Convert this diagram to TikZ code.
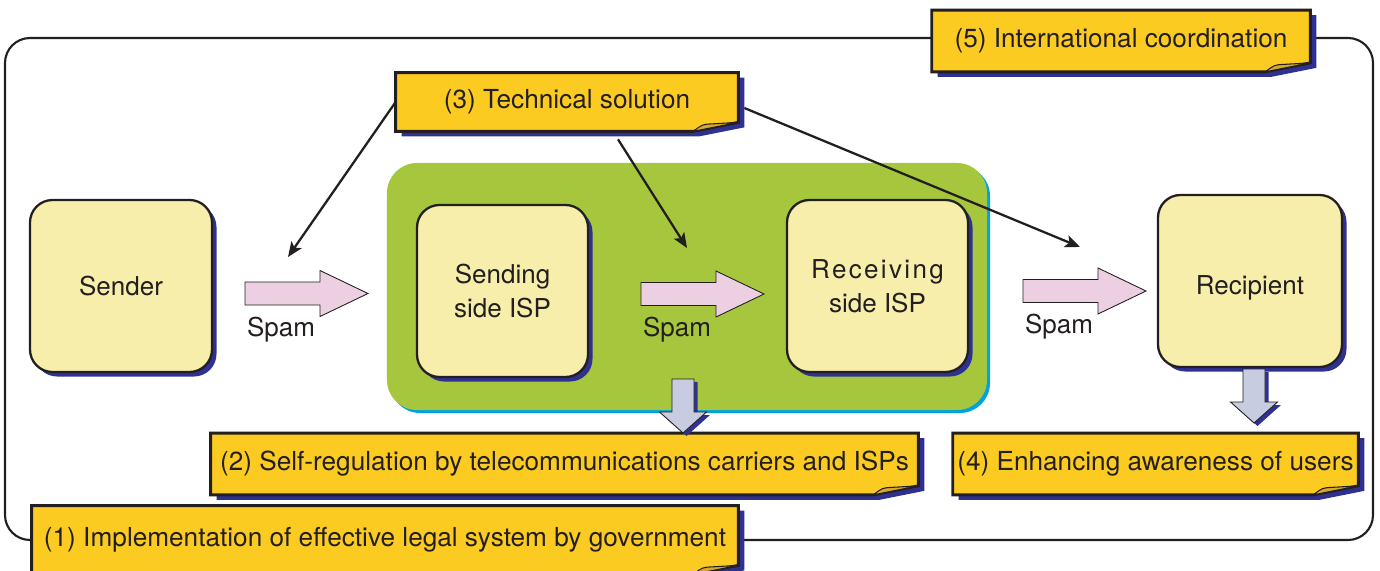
\documentclass[tikz,border=0pt]{standalone}
\usepackage{fontspec}
\setmainfont{TeX Gyre Heros}
\usetikzlibrary{arrows.meta, shadows, backgrounds, calc}
\definecolor{ink}{HTML}{231F20}
\definecolor{navy}{HTML}{2E3192}
\definecolor{notefill}{HTML}{FCCB22}
\definecolor{foldfill}{HTML}{D6A92E}
\definecolor{nodefill}{HTML}{F8EEAB}
\definecolor{leaf}{HTML}{A6C63D}
\definecolor{skyedge}{HTML}{00A3E0}
\definecolor{spampink}{HTML}{EDCFE2}
\definecolor{pushgrey}{HTML}{C8CCE0}

\tikzset{
  party/.style={draw=ink, line width=1.3pt, fill=nodefill, rounded corners=0.45cm,
    drop shadow={shadow xshift=0.09cm, shadow yshift=-0.09cm, fill=navy, opacity=1},
    minimum height=3.44cm, align=center, text=ink,
    font=\fontsize{14.8}{19.5}\selectfont},
  zone/.style={fill=leaf, rounded corners=0.6cm, minimum width=12cm, minimum height=4.94cm,
    drop shadow={shadow xshift=0.06cm, shadow yshift=-0.06cm, fill=skyedge, opacity=1}},
  note/.style={inner sep=0pt, minimum height=1.22cm, text=ink,
    font=\fontsize{14.9}{17}\selectfont},
  notebox/.style={draw=ink, line width=1.6pt, fill=notefill,
    drop shadow={shadow xshift=0.12cm, shadow yshift=-0.1cm, fill=navy, opacity=1}},
  hint/.style={draw=ink, line width=1.3pt, -{Stealth[length=8.5pt, width=7pt, inset=2pt]}},
  spamarrow/.style={draw=ink, line width=0.5pt, fill=spampink},
  pusharrow/.style={draw=ink, line width=0.5pt, fill=pushgrey,
    drop shadow={shadow xshift=0.07cm, shadow yshift=-0.06cm, fill=navy, opacity=1}},
  spam/.pic={
    \draw[spamarrow] (0,-1.15) -- (7.5,-1.15) -- (7.5,-2.3) -- (12.3,0)
      -- (7.5,2.3) -- (7.5,1.15) -- (0,1.15) -- cycle;
    \node[text=ink, font=\fontsize{14.8}{17}\selectfont] (-txt) at (3.6,3.6) {Spam};
  },
  push/.pic={
    \draw[pusharrow] (-1.1,0) -- (1.1,0) -- (1.1,3.3) -- (2.35,3.3) -- (0,5.4)
      -- (-2.35,3.3) -- (-1.1,3.3) -- cycle;
  }
}

\begin{document}
\begin{tikzpicture}[x=0.2cm, y=-0.2cm]
  \useasboundingbox (0,0) rectangle (138,57.1);

  % ISP area
  \node[zone] (ispzone) at (68.7,28.65) {};

  % parties
  \node[party, minimum width=3.64cm] (sender)    at (12.1,28.6)  {Sender};
  \node[party, minimum width=3.42cm] (sendisp)   at (50.25,29.1) {Sending\\side ISP};
  \node[party, minimum width=3.62cm] (recvisp)   at (87.75,28.6)
    {{\addfontfeature{LetterSpace=9}Receiving}\\side ISP};
  \node[party, minimum width=3.68cm] (recipient) at (125,28.1)
    {\raisebox{-0.27cm}[0pt][0pt]{Recipient}};

  % spam flow
  \pic (spamA) at (24.5,29.35) {spam};
  \pic (spamB) at (64.1,29.4)  {spam};
  \pic (spamC) at (102.3,29.1) {spam};

  % measures
  \node[note, minimum width=7.56cm] (intl) at (112.1,4.1) {(5) International coordination};
  \node[note, minimum width=6.84cm, minimum height=1.16cm] (tech) at (56.7,10.2)
    {(3) Technical solution};
  \node[note, minimum width=14.14cm] (selfreg) at (56.45,46.4)
    {(2) Self-regulation by telecommunications carriers and ISPs};
  \node[note, minimum width=8.1cm] (aware) at (115.55,46.4) {(4) Enhancing awareness of users};
  \node[note, minimum width=14.12cm, minimum height=1.36cm] (legal) at (38.5,54.0)
    {(1) Implementation of effective legal system by government};

  \pic (pushA) at (68.3,37.9)  {push};
  \pic (pushB) at (125.4,36.9) {push};

  \coordinate (hitA) at (28.8,25.7);
  \coordinate (hitB) at (68.7,24.8);
  \coordinate (hitC) at (108.0,24.7);
  \draw[hint] (tech.west) -- (hitA);
  \draw[hint] ($(tech.south)+(5.1,0.8)$) -- (hitB);
  \draw[hint] ($(tech.east)+(0.6,0.6)$) -- (hitC);

  \begin{scope}[on background layer]
    \draw[ink, line width=1.2pt, rounded corners=0.5cm] (0.5,3.8) rectangle (137.3,54.0);
    \foreach \n in {intl,tech,selfreg,aware,legal}{
      \draw[notebox] (\n.north west) -- (\n.north east) -- ($(\n.south east)+(0,-0.9)$)
        -- ($(\n.south east)+(-4.5,0)$) -- (\n.south west) -- cycle;
      \draw[ink, line width=0.6pt, fill=foldfill] ($(\n.south east)+(-4.5,0)$)
        .. controls ($(\n.south east)+(-3.6,-0.7)$) .. ($(\n.south east)+(-2.6,-0.75)$)
        -- ($(\n.south east)+(0,-0.9)$) -- cycle;
    }
  \end{scope}
\end{tikzpicture}
\end{document}
